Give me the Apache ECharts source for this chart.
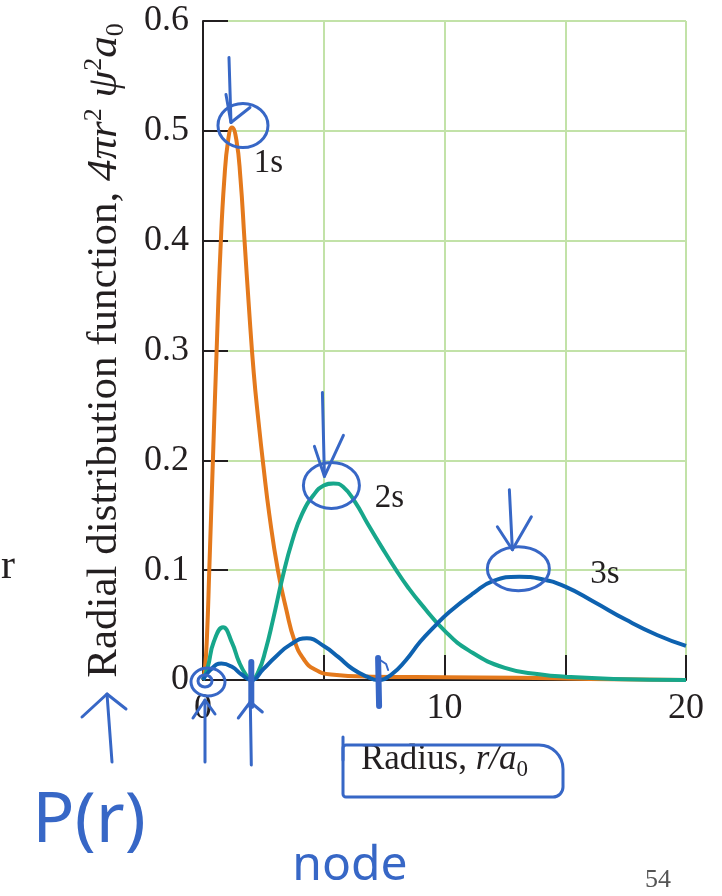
<!DOCTYPE html>
<html>
<head>
<meta charset="utf-8">
<script src="https://cdn.jsdelivr.net/npm/echarts@6/dist/echarts.min.js"></script>
<style>
  html, body { margin: 0; padding: 0; background: #fff; }
  #chart { width: 722px; height: 896px; }
</style>
</head>
<body>
<div id="chart"></div>
<script>
// values: radius r/a0 and radial distribution 4πr²ψ²a0
const radius1s = [0, 0.08, 0.165, 0.26, 0.41, 0.58, 0.72, 0.88, 1.05, 1.2, 1.38, 1.55, 1.72, 1.9, 2.1, 2.3, 2.5, 2.75, 3.1, 3.45, 3.8, 4.2, 4.6, 5.3, 7, 10, 13, 16, 20];
const rdf1s    = [0, 0.01, 0.04, 0.1, 0.2, 0.31, 0.39, 0.455, 0.493, 0.503, 0.492, 0.457, 0.4, 0.34, 0.28, 0.235, 0.195, 0.15, 0.1, 0.064, 0.035, 0.018, 0.01, 0.005, 0.003, 0.0025, 0.002, 0.001, 0];

const radius2s = [0, 0.2, 0.45, 0.83, 1.2, 1.5, 1.8, 2.0, 2.3, 2.6, 2.9, 3.3, 3.7, 4.1, 4.6, 5.0, 5.4, 5.8, 6.3, 6.8, 7.4, 8.0, 8.5, 9.0, 10, 11, 12.5, 14, 15, 17, 20];
const rdf2s    = [0, 0.012, 0.035, 0.048, 0.034, 0.016, 0.004, 0, 0.008, 0.028, 0.055, 0.094, 0.127, 0.151, 0.169, 0.177, 0.179, 0.176, 0.162, 0.143, 0.121, 0.1, 0.084, 0.07, 0.045, 0.027, 0.011, 0.005, 0.003, 0.001, 0];

const radius3s = [0, 0.3, 0.76, 1.2, 1.6, 2.0, 2.5, 3.0, 3.6, 4.3, 5.0, 5.6, 6.2, 6.8, 7.25, 7.8, 8.4, 9.0, 9.6, 10.2, 11.2, 12.0, 13.1, 14.0, 15.0, 16.2, 17.5, 18.8, 20];
const rdf3s    = [0, 0.009, 0.015, 0.012, 0.005, 0, 0.01, 0.021, 0.032, 0.038, 0.031, 0.021, 0.01, 0.003, 0, 0.005, 0.018, 0.035, 0.049, 0.062, 0.079, 0.09, 0.094, 0.092, 0.085, 0.071, 0.055, 0.041, 0.031];

const orbitalNames = ['1s', '2s', '3s'];
const orbitalLabelR = [2.71, 7.72, 16.64];
const orbitalLabelV = [0.47, 0.165, 0.0966];

const xLabelValues = [0, 10, 20];

const SERIF = '"Liberation Serif", "DejaVu Serif", serif';
const INK = '#3767c6';
const GRID_GREEN = '#c2e2a8';
const AXIS = '#231f20';
const COLORS = ['#e4791c', '#17a78b', '#0e62b0'];

const zip = (xs, ys) => xs.map((x, i) => [x, ys[i]]);

const chart = echarts.init(document.getElementById('chart'));

const curves = [zip(radius1s, rdf1s), zip(radius2s, rdf2s), zip(radius3s, rdf3s)];

chart.setOption({
  animation: false,
  backgroundColor: '#fff',
  grid: { left: 203, right: 36, top: 21, bottom: 216 },
  xAxis: {
    type: 'value', min: 0, max: 20, interval: 5,
    axisLine: { lineStyle: { color: AXIS, width: 2 } },
    axisTick: { inside: true, length: 25, lineStyle: { color: AXIS, width: 2 } },
    splitLine: { lineStyle: { color: GRID_GREEN, width: 2 } },
    axisLabel: {
      formatter: v => xLabelValues.includes(v) ? String(v) : '',
      fontFamily: SERIF, fontSize: 36, color: AXIS, margin: 11
    },
    name: '{n|Radius, }{i|r/a}{sub|0}',
    nameLocation: 'middle', nameGap: 59,
    nameTextStyle: {
      rich: {
        n: { fontFamily: SERIF, fontSize: 35, color: AXIS, lineHeight: 42 },
        i: { fontFamily: SERIF, fontSize: 35, fontStyle: 'italic', color: AXIS, lineHeight: 42 },
        sub: { fontFamily: SERIF, fontSize: 23, color: AXIS, lineHeight: 22, verticalAlign: 'bottom' }
      }
    }
  },
  yAxis: {
    type: 'value', min: 0, max: 0.6, interval: 0.1,
    axisLine: { lineStyle: { color: AXIS, width: 2 } },
    axisTick: { inside: true, length: 25, lineStyle: { color: AXIS, width: 2 } },
    splitLine: { lineStyle: { color: GRID_GREEN, width: 2 } },
    axisLabel: {
      formatter: v => v === 0 ? '0' : v.toFixed(1),
      fontFamily: SERIF, fontSize: 36, color: AXIS, margin: 14
    },
    name: '{n|Radial distribution function, }{i|4πr}{sup|2}{i| ψ}{sup|2}{i|a}{sub|0}',
    nameLocation: 'middle', nameGap: 74, nameRotate: 90,
    nameTextStyle: {
      rich: {
        n: { fontFamily: SERIF, fontSize: 43, color: AXIS, lineHeight: 48 },
        i: { fontFamily: SERIF, fontSize: 43, fontStyle: 'italic', color: AXIS, lineHeight: 48 },
        sup: { fontFamily: SERIF, fontSize: 26, color: AXIS, lineHeight: 26, verticalAlign: 'top' },
        sub: { fontFamily: SERIF, fontSize: 26, color: AXIS, lineHeight: 24, verticalAlign: 'bottom' }
      }
    }
  },
  series: curves.map((data, i) => ({
    name: orbitalNames[i],
    type: 'line',
    data: data,
    smooth: 0.5,
    symbol: 'none',
    clip: false,
    z: 3 + i,
    lineStyle: { color: COLORS[i], width: 4 }
  }))
});

// annotations, anchored to data points
const toPx = (r, v) => chart.convertToPixel({ gridIndex: 0 }, [r, v]);
const ink = { stroke: INK, lineWidth: 3, fill: null, lineCap: 'round', lineJoin: 'round' };

function path(anchor, offs, width) {
  return {
    type: 'polyline', z: 100,
    shape: { points: offs.map(o => [anchor[0] + o[0], anchor[1] + o[1]]) },
    style: Object.assign({}, ink, width ? { lineWidth: width } : {})
  };
}
function ring(anchor, dx, dy, rx, ry) {
  return { type: 'ellipse', z: 100, shape: { cx: anchor[0] + dx, cy: anchor[1] + dy, rx: rx, ry: ry }, style: ink };
}
function label(x, y, text, font, fill) {
  return {
    type: 'text', x: x, y: y, z: 100,
    style: { text: text, font: font, fill: fill, align: 'center', verticalAlign: 'middle', textAlign: 'center', textVerticalAlign: 'middle' }
  };
}

const peaks = curves.map(d => {
  let best = d[0];
  d.forEach(p => { if (p[1] > best[1]) best = p; });
  return toPx(best[0], best[1]);
});
const origin = toPx(0, 0);
const node1 = toPx(2, 0);
const node2 = toPx(7.25, 0);

const graphics = [];

orbitalNames.forEach((n, i) => {
  const p = toPx(orbitalLabelR[i], orbitalLabelV[i]);
  graphics.push(label(p[0], p[1], n, '33px ' + SERIF, AXIS));
});

// circles and arrows at the maxima
graphics.push(
  ring(peaks[0], 11, -2, 25, 22),
  path(peaks[0], [[-3, -70], [-1, -5]]),
  path(peaks[0], [[-6, -33], [-1, -5], [18, -20]]),
  ring(peaks[1], -2, 2, 28, 23),
  path(peaks[1], [[-11, -91], [-9, -7]]),
  path(peaks[1], [[-19, -37], [-9, -7], [10, -48]]),
  ring(peaks[2], -1, -8, 31, 22),
  path(peaks[2], [[-10, -87], [-7, -27]]),
  path(peaks[2], [[-22, -50], [-7, -27], [12, -60]])
);

// origin scribble, node marks, up arrows
graphics.push(
  ring(origin, 5, 2, 17, 14),
  ring(origin, 2, 1, 7, 6),
  path(node1, [[0, -18], [0, 26]], 6),
  path(node2, [[0, -22], [1, 26]], 6),
  path(node2, [[2, -20], [8, -16], [10, -10]], 2),
  path(origin, [[2, 82], [2, 20]]),
  path(origin, [[-10, 38], [2, 20], [12, 34]]),
  path(node1, [[0, 85], [-1, 22]]),
  path(node1, [[-13, 38], [-1, 22], [11, 32]])
);

// page notes
graphics.push(
  path([0, 0], [[112, 762], [107, 694]]),
  path([0, 0], [[82, 717], [107, 694], [126, 709]]),
  label(89, 822, 'P(r)', '70px "Noto Sans"', INK),
  label(350, 866, 'node', '48px "Noto Sans"', INK),
  { type: 'rect', z: 100, shape: { x: 343, y: 745, width: 220, height: 52, r: [3, 24, 10, 3] }, style: ink },
  path([0, 0], [[343, 737], [343, 760]]),
  label(658, 880, '54', '26px ' + SERIF, '#555'),
  label(8, 567, 'r', '42px ' + SERIF, AXIS)
);

chart.setOption({ graphic: graphics });
</script>
</body>
</html>
